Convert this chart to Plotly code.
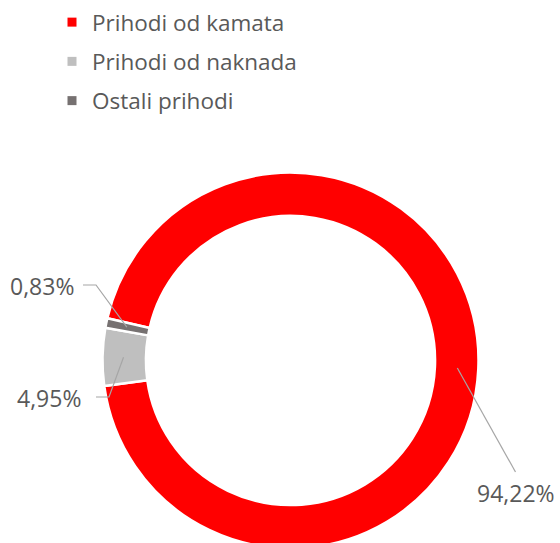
import math
import plotly.graph_objects as go

# ---- data ----
categories = ["Prihodi od kamata", "Prihodi od naknada", "Ostali prihodi"]
shares = [94.22, 4.95, 0.83]
labels_txt = ["94,22%", "4,95%", "0,83%"]
colors = ["#FF0000", "#BFBFBF", "#767171"]

W, H = 560, 549
CX, CY, R = 290.5, 360.5, 188.0
ROT = 283.0  # degrees clockwise from 12 o'clock where first slice starts


def px(x):
    return x / W


def py(y):
    return 1 - y / H


fig = go.Figure()
fig.add_trace(go.Pie(
    labels=categories, values=shares, sort=False, direction="clockwise",
    rotation=ROT, hole=0.769, textinfo="none", showlegend=False,
    marker=dict(colors=colors, line=dict(color="white", width=2.5)),
    domain=dict(x=[px(CX - R), px(CX + R)], y=[py(CY + R), py(CY - R)]),
    hoverinfo="label+percent",
))

# legend entries
for i, (c, col) in enumerate(zip(categories, colors)):
    fig.add_trace(go.Scatter(
        x=[None], y=[None], mode="markers", name=c, legendgroup=f"g{i}",
        marker=dict(symbol="square", size=9, color=col),
    ))

# label positions and leader lines derived from slice mid-angles
tot = sum(shares)
start = ROT
mids = []
for v in shares:
    span = v / tot * 360
    mids.append(start + span / 2)
    start += span

label_pos = [(515.5, 493), (49, 398), (42, 286)]
shapes = []
annotations = []
for k, (txt, mid, (lx, ly)) in enumerate(zip(labels_txt, mids, label_pos)):
    rr = 167
    th = math.radians(mid)
    tx = CX + rr * math.sin(th)
    ty = CY - rr * math.cos(th)
    if k == 0:
        path = f"M {px(tx)},{py(ty)} L {px(lx)},{py(ly - 21)}"
    else:
        ex = lx + 41 + (6 if k == 1 else 0)
        path = (f"M {px(tx)},{py(ty)} L {px(ex + 13)},{py(ly - 1)} "
                f"L {px(ex)},{py(ly - 1)}")
    shapes.append(dict(type="path", path=path, xref="paper", yref="paper",
                       line=dict(color="#A6A6A6", width=1.2)))
    annotations.append(dict(x=px(lx), y=py(ly), xref="paper", yref="paper",
                            text=txt, showarrow=False, xanchor="center",
                            yanchor="middle",
                            font=dict(family="Open Sans", size=23, color="#595959")))

fig.update_layout(
    width=W, height=H, margin=dict(l=0, r=0, t=0, b=0),
    paper_bgcolor="white", plot_bgcolor="white",
    xaxis=dict(visible=False), yaxis=dict(visible=False),
    showlegend=True,
    legend=dict(x=px(52), y=py(1), xanchor="left", yanchor="top",
                font=dict(family="Open Sans", size=22.5, color="#595959"),
                tracegroupgap=7, bgcolor="rgba(0,0,0,0)"),
    shapes=shapes, annotations=annotations,
)

fig.write_html("out.html", config={"displayModeBar": False},
               post_script="document.body.style.margin='0';document.body.style.overflow='hidden';")
